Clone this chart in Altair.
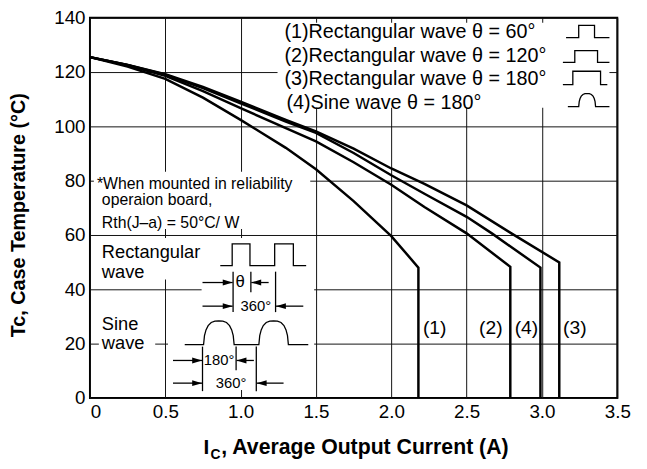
import altair as alt
import pandas as pd

# ---------------- data ----------------
series = ["(1)", "(2)", "(3)", "(4)"]
c1_I = [0, 0.25, 0.5, 0.75, 1.0, 1.3, 1.5, 1.75, 2.0, 2.18, 2.18]
c1_T = [125.5, 122.0, 117.5, 110.6, 102.4, 92.1, 84.2, 72.5, 59.6, 48.0, 0]
c2_I = [0, 0.25, 0.5, 0.75, 1.0, 1.3, 1.5, 1.75, 2.0, 2.22, 2.5, 2.79, 2.79]
c2_T = [125.5, 122.5, 118.6, 113.0, 106.7, 99.4, 94.5, 86.8, 78.5, 70.3, 60.6, 48.3, 0]
c3_I = [0, 0.25, 0.5, 0.75, 1.0, 1.3, 1.5, 1.75, 2.0, 2.22, 2.5, 2.8, 3.115, 3.115]
c3_T = [125.5, 122.6, 119.2, 114.5, 109.1, 102.4, 98.2, 91.8, 84.5, 78.8, 70.9, 60.5, 49.9, 0]
c4_I = [0, 0.25, 0.5, 0.75, 1.0, 1.3, 1.5, 1.75, 2.0, 2.22, 2.5, 2.67, 2.99, 2.99]
c4_T = [125.5, 122.6, 119.0, 114.1, 108.5, 101.8, 97.6, 90.2, 82.0, 75.2, 66.7, 60.5, 48.0, 0]

legend_labels = ["(1)Rectangular wave \u03b8 = 60\u00b0",
                 "(2)Rectangular wave \u03b8 = 120\u00b0",
                 "(3)Rectangular wave \u03b8 = 180\u00b0",
                 "(4)Sine wave \u03b8 = 180\u00b0"]
end_labels = ["(1)", "(2)", "(4)", "(3)"]
note_lines = ["*When mounted in reliability", "operaion board,", "Rth(J\u2013a) = 50\u00b0C/ W"]
x_ticks = [0, 0.5, 1.0, 1.5, 2.0, 2.5, 3.0, 3.5]
y_ticks = [0, 20, 40, 60, 80, 100, 120, 140]
x_title = ", Average Output Current (A)"
y_title = "Tc, Case Temperature (\u00b0C)"

FONT = "Liberation Sans"

# ---------------- tables ----------------
rows = []
for name, xi, ti in zip(series, [c1_I, c2_I, c3_I, c4_I], [c1_T, c2_T, c3_T, c4_T]):
    for k, (a, b) in enumerate(zip(xi, ti)):
        rows.append({"s": name, "k": k, "x": a, "y": b})
curves = pd.DataFrame(rows)

# decoration geometry (data units)
masks = pd.DataFrame([
    {"x": 1.245, "x2": 3.448, "y": 138.2, "y2": 106.9},
    {"x": 0.026, "x2": 1.462, "y": 83.3, "y2": 62.2},
    {"x": 0.026, "x2": 1.488, "y": 58.9, "y2": 43.6},
    {"x": 0.741, "x2": 1.488, "y": 43.6, "y2": 30.2},
    {"x": 0.059, "x2": 0.433, "y": 30.5, "y2": 16.7},
    {"x": 0.518, "x2": 1.488, "y": 30.5, "y2": 2.9},
])

hump_f = [0, 0.03, 0.08, 0.15, 0.25, 0.37, 0.5, 0.63, 0.75, 0.85, 0.92, 0.97, 1]
hump_h = [0, 0.38, 0.62, 0.8, 0.93, 0.99, 1, 0.99, 0.93, 0.8, 0.62, 0.38, 0]


def sine_icon(xs, base, height):
    pts = [(xs[0], base)]
    for a, b in zip(xs[1:-1:2], xs[2:-1:2]):
        for f, h in zip(hump_f, hump_h):
            pts.append((a + (b - a) * f, base + height * h))
    pts.append((xs[-1], base))
    return pts


def rect_icon(xs, low, high):
    pts = [(xs[0], low)]
    for i, xv in enumerate(xs[1:-1]):
        if i % 2 == 0:
            pts += [(xv, low), (xv, high)]
        else:
            pts += [(xv, high), (xv, low)]
    pts.append((xs[-1], low))
    return pts


shapes = {
    "rw": rect_icon([0.865, 0.944, 1.062, 1.226, 1.350, 1.435], 48.7, 56.7),
    "sw": sine_icon([0.629, 0.754, 0.957, 1.121, 1.317, 1.449], 19.6, 8.8),
    "l1": rect_icon([3.160, 3.244, 3.349, 3.448], 132.7, 137.2),
    "l2": rect_icon([3.139, 3.218, 3.369, 3.448], 123.6, 127.9),
    "l3": rect_icon([3.139, 3.205, 3.389, 3.434], 115.4, 120.3),
    "l4": sine_icon([3.172, 3.244, 3.356, 3.448], 107.3, 4.8),
}
srows = []
for sid, pts in shapes.items():
    for k, (a, b) in enumerate(pts):
        srows.append({"id": sid, "k": k, "x": a, "y": b})
shape_df = pd.DataFrame(srows)

bars = pd.DataFrame([
    {"x": 0.950, "y": 46.5, "y2": 31.6},
    {"x": 1.068, "y": 46.5, "y2": 38.9},
    {"x": 1.232, "y": 46.5, "y2": 31.6},
    {"x": 0.747, "y": 18.9, "y2": 2.5},
    {"x": 0.970, "y": 18.9, "y2": 10.2},
    {"x": 1.104, "y": 18.9, "y2": 2.5},
])
arrows_src = [
    (0.747, 0.947, 42.5), (1.186, 1.071, 42.5),
    (0.747, 0.947, 33.8), (1.416, 1.235, 33.8),
    (0.551, 0.744, 13.8), (1.088, 0.973, 13.8),
    (0.551, 0.744, 5.45), (1.285, 1.107, 5.45),
]
arrows = pd.DataFrame([{"x": a, "x2": b, "y": c} for a, b, c in arrows_src])
half = 5 / 152.57
heads_r = pd.DataFrame([{"x": b - half, "y": c} for a, b, c in arrows_src if b > a])
heads_l = pd.DataFrame([{"x": b + half, "y": c} for a, b, c in arrows_src if b < a])

# ---------------- scales / axes ----------------
xs = alt.Scale(domain=[0, 3.5], nice=False, zero=False)
ys = alt.Scale(domain=[0, 140], nice=False, zero=False)
xaxis = alt.Axis(values=x_ticks, labelExpr="datum.value == 0 ? '' : format(datum.value, '.1f')",
                 grid=True, gridColor="#111111", gridWidth=1, ticks=False, tickSize=0, domain=False,
                 labelFont=FONT, labelFontSize=19, labelColor="black", labelPadding=5,
                 labelFlush=False, title=None)
yaxis = alt.Axis(values=y_ticks, grid=True, gridColor="#111111", gridWidth=1, ticks=False, tickSize=0,
                 domain=False, labelFont=FONT, labelFontSize=19, labelColor="black", labelPadding=5,
                 labelFlush=False, title=None)


def X(f):
    return alt.X(f, type="quantitative", scale=xs, axis=xaxis, title=None)


def Y(f):
    return alt.Y(f, type="quantitative", scale=ys, axis=yaxis, title=None)


layers = []
layers.append(alt.Chart(masks).mark_rect(color="white").encode(
    x=X("x"), x2="x2", y=Y("y"), y2="y2"))
layers.append(alt.Chart(shape_df).mark_line(color="black", strokeWidth=1.3).encode(
    x=X("x"), y=Y("y"), detail="id:N", order="k:Q"))
layers.append(alt.Chart(bars).mark_rule(color="black", strokeWidth=1.3).encode(
    x=X("x"), y=Y("y"), y2="y2"))
layers.append(alt.Chart(arrows).mark_rule(color="black", strokeWidth=1.3).encode(
    x=X("x"), x2="x2", y=Y("y")))
layers.append(alt.Chart(heads_r).mark_point(shape="M 1 0 L -1 -0.6 L -1 0.6 Z", filled=True, size=100,
                                            color="black", opacity=1, strokeWidth=0).encode(
    x=X("x"), y=Y("y")))
layers.append(alt.Chart(heads_l).mark_point(shape="M -1 0 L 1 -0.6 L 1 0.6 Z", filled=True, size=100,
                                            color="black", opacity=1, strokeWidth=0).encode(
    x=X("x"), y=Y("y")))
layers.append(alt.Chart(curves).mark_line(color="black", strokeWidth=2.5).encode(
    x=X("x"), y=Y("y"), detail="s:N", order="k:Q"))


def texts(df, size, align="left", baseline="alphabetic", bold=False, **kw):
    return alt.Chart(df).mark_text(font=FONT, fontSize=size, align=align, baseline=baseline,
                                   color="black", fontWeight="bold" if bold else "normal", **kw).encode(
        x=X("x"), y=Y("y"), text="t:N")


layers.append(texts(pd.DataFrame({"t": legend_labels, "x": [1.291, 1.291, 1.291, 1.304],
                                  "y": [132.7, 123.6, 115.2, 106.4]}), 20))
layers.append(texts(pd.DataFrame({"t": end_labels, "x": [2.288, 2.661, 2.897, 3.218],
                                  "y": [25.8] * 4}), 19.5, align="center", baseline="middle"))
layers.append(texts(pd.DataFrame({"t": note_lines, "x": [0.046, 0.079, 0.079],
                                  "y": [77.1, 70.9, 62.5]}), 16))
layers.append(texts(pd.DataFrame({"t": ["Rectangular\nwave"], "x": [0.079], "y": [51.4]}), 18.5,
                    lineBreak="\n", lineHeight=19.5))
layers.append(texts(pd.DataFrame({"t": ["Sine\nwave"], "x": [0.079], "y": [25.1]}), 18.5,
                    lineBreak="\n", lineHeight=19.5))
layers.append(texts(pd.DataFrame({"t": ["\u03b8"], "x": [0.997], "y": [42.5]}), 17,
                    align="center", baseline="middle"))
layers.append(texts(pd.DataFrame({"t": ["360\u00b0", "180\u00b0", "360\u00b0"], "x": [1.101, 0.857, 0.937],
                                  "y": [33.8, 13.8, 5.45]}), 15, align="center", baseline="middle"))

# axis titles and the flush "0" tick label
layers.append(alt.Chart(pd.DataFrame({"t": ["0"]})).mark_text(
    font=FONT, fontSize=19, align="center", baseline="top", color="black").encode(
    x=alt.value(6), y=alt.value(390), text="t:N"))
layers.append(alt.Chart(pd.DataFrame({"t": [y_title]})).mark_text(
    font=FONT, fontSize=20, fontWeight="bold", angle=270, align="center", baseline="middle",
    color="black").encode(x=alt.value(-72), y=alt.value(200), text="t:N"))
layers.append(alt.Chart(pd.DataFrame({"t": ["I"]})).mark_text(
    font=FONT, fontSize=21, fontWeight="bold", align="left", baseline="alphabetic",
    color="black").encode(x=alt.value(115), y=alt.value(442), text="t:N"))
layers.append(alt.Chart(pd.DataFrame({"t": ["C"]})).mark_text(
    font=FONT, fontSize=14, fontWeight="bold", align="left", baseline="alphabetic",
    color="black").encode(x=alt.value(122), y=alt.value(447), text="t:N"))
layers.append(alt.Chart(pd.DataFrame({"t": [x_title]})).mark_text(
    font=FONT, fontSize=21.5, fontWeight="bold", align="left", baseline="alphabetic",
    color="black").encode(x=alt.value(133), y=alt.value(442), text="t:N"))

chart = alt.layer(*layers).properties(
    width=534, height=385,
    autosize=alt.AutoSizeParams(type="none"),
    padding={"left": 83, "top": 7, "right": 22, "bottom": 62},
    background="white",
).configure_view(stroke="black", strokeWidth=2)

chart.save("out.html", embed_options={"renderer": "svg", "actions": False})
